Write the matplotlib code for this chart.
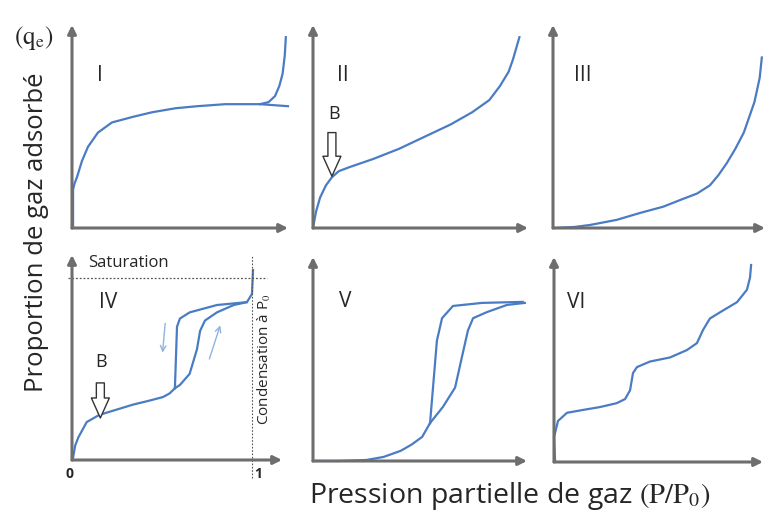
import matplotlib
matplotlib.use('Agg')
import matplotlib.pyplot as plt

plt.rcParams['font.family'] = ['Open Sans', 'DejaVu Sans']
plt.rcParams['mathtext.fontset'] = 'stix'

W, H = 778, 515

# --- isotherm curves (x = P/P0 along axis, y = fraction of axis height) ---
typeI_x = [0, 0.005, 0.005, 0.012, 0.023, 0.046, 0.074, 0.12, 0.185, 0.28, 0.37, 0.48, 0.58,
           0.71, 0.87, 1.0]
typeI_y = [0, 0.005, 0.19, 0.22, 0.25, 0.33, 0.40, 0.47, 0.52, 0.547, 0.57, 0.59, 0.60,
           0.61, 0.61, 0.60]
typeI_up_x = [0.87, 0.91, 0.94, 0.96, 0.975, 0.985, 0.99]
typeI_up_y = [0.61, 0.62, 0.65, 0.70, 0.76, 0.85, 0.94]

typeII_x = [0, 0.014, 0.033, 0.06, 0.088, 0.12, 0.17, 0.28, 0.40, 0.52, 0.64, 0.74, 0.82,
            0.87, 0.91, 0.93, 0.96]
typeII_y = [0, 0.08, 0.15, 0.21, 0.25, 0.28, 0.30, 0.34, 0.39, 0.45, 0.51, 0.57, 0.63,
            0.70, 0.77, 0.83, 0.94]

typeIII_x = [0.01, 0.10, 0.175, 0.30, 0.41, 0.52, 0.60, 0.68, 0.74, 0.78, 0.82, 0.86, 0.90,
             0.95, 0.975, 0.985]
typeIII_y = [0.0, 0.005, 0.015, 0.04, 0.074, 0.105, 0.138, 0.17, 0.21, 0.26, 0.32, 0.39,
             0.47, 0.62, 0.74, 0.84]

typeIV_x = [0, 0.005, 0.015, 0.03, 0.07, 0.13, 0.21, 0.29, 0.37, 0.433, 0.465, 0.49]
typeIV_y = [0, 0.01, 0.07, 0.11, 0.185, 0.22, 0.245, 0.27, 0.29, 0.307, 0.325, 0.35]
typeIV_ads_x = [0.49, 0.514, 0.56, 0.595, 0.61, 0.633, 0.69, 0.77, 0.833, 0.857, 0.862]
typeIV_ads_y = [0.35, 0.366, 0.42, 0.54, 0.63, 0.68, 0.72, 0.756, 0.77, 0.81, 0.927]
typeIV_des_x = [0.49, 0.50, 0.514, 0.56, 0.69, 0.833]
typeIV_des_y = [0.35, 0.65, 0.69, 0.72, 0.756, 0.77]

typeV_x = [0, 0.12, 0.25, 0.33, 0.41, 0.46, 0.51, 0.547]
typeV_y = [0, 0.0, 0.005, 0.02, 0.05, 0.08, 0.118, 0.186]
typeV_des_x = [0.547, 0.56, 0.579, 0.603, 0.654, 0.79, 0.98]
typeV_des_y = [0.186, 0.35, 0.59, 0.70, 0.76, 0.775, 0.78]
typeV_ads_x = [0.547, 0.607, 0.664, 0.696, 0.724, 0.748, 0.813, 0.906, 0.99]
typeV_ads_y = [0.186, 0.265, 0.36, 0.51, 0.64, 0.70, 0.73, 0.765, 0.775]

typeVI_x = [0.005, 0.0, 0.019, 0.062, 0.139, 0.22, 0.30, 0.34, 0.364, 0.378, 0.397, 0.459,
            0.555, 0.636, 0.684, 0.713, 0.746, 0.794, 0.876, 0.923, 0.938, 0.943]
typeVI_y = [0.01, 0.12, 0.20, 0.24, 0.254, 0.268, 0.287, 0.307, 0.35, 0.434, 0.463, 0.49,
            0.51, 0.546, 0.58, 0.644, 0.70, 0.73, 0.78, 0.84, 0.90, 0.961]

panel_names = ['I', 'II', 'III', 'IV', 'V', 'VI']
# pixel boxes: origin x, origin y, arrow tip x, arrow tip y
panel_boxes = [(72, 228, 288, 25), (313, 228, 528, 25), (553, 228, 765, 25),
               (72, 460, 282, 255), (313, 461, 527, 257), (554, 462, 763, 257)]
label_pos = [(0.13, 0.75), (0.14, 0.75), (0.14, 0.75), (0.17, 0.77), (0.15, 0.78), (0.105, 0.78)]

curve_color = '#4a7cc4'
axis_color = '#6e6e6e'
text_color = '#262626'

fig = plt.figure(figsize=(W / 100, H / 100), dpi=100)

axes = []
for name, (ox, oy, tx, ty), (lx, ly) in zip(panel_names, panel_boxes, label_pos):
    ax = fig.add_axes([ox / W, 1 - oy / H, (tx - ox) / W, (oy - ty) / H])
    ax.set_xlim(0, 1)
    ax.set_ylim(0, 1)
    ax.axis('off')
    for end in [(1, 0), (0, 1)]:
        ax.annotate('', xy=end, xytext=(0, 0), xycoords='data',
                    arrowprops=dict(arrowstyle='-|>,head_length=0.5,head_width=0.25',
                                    color=axis_color, lw=2.2, shrinkA=0, shrinkB=0),
                    annotation_clip=False)
    ax.text(lx, ly, name, fontsize=15, color=text_color, ha='center', va='center')
    axes.append(ax)

lw = 1.6
kw = dict(color=curve_color, lw=lw, clip_on=False, solid_joinstyle='round')
axes[0].plot(typeI_x, typeI_y, **kw)
axes[0].plot(typeI_up_x, typeI_up_y, **kw)
axes[1].plot(typeII_x, typeII_y, **kw)
axes[2].plot(typeIII_x, typeIII_y, **kw)
axes[3].plot(typeIV_x, typeIV_y, **kw)
axes[3].plot(typeIV_ads_x, typeIV_ads_y, **kw)
axes[3].plot(typeIV_des_x, typeIV_des_y, **kw)
axes[4].plot(typeV_x, typeV_y, **kw)
axes[4].plot(typeV_des_x, typeV_des_y, **kw)
axes[4].plot(typeV_ads_x, typeV_ads_y, **kw)
axes[5].plot(typeVI_x, typeVI_y, **kw)

# B point markers (hollow block arrows)
block = dict(arrowstyle='simple,head_length=0.8,head_width=0.72,tail_width=0.32',
             fc='white', ec='#333333', lw=1.0, shrinkA=0, shrinkB=0, mutation_scale=18)
axes[1].annotate('', xy=(0.088, 0.255), xytext=(0.088, 0.47), arrowprops=block, annotation_clip=False)
axes[1].text(0.10, 0.56, 'B', fontsize=13, color=text_color, ha='center', va='center')
axes[3].annotate('', xy=(0.135, 0.205), xytext=(0.135, 0.376), arrowprops=block, annotation_clip=False)
axes[3].text(0.14, 0.48, 'B', fontsize=13, color=text_color, ha='center', va='center')

# panel IV extras
ax4 = axes[3]
ax4.plot([-0.02, 0.93], [0.89, 0.89], ls=(0, (1.5, 1.5)), color='#555555', lw=0.9, clip_on=False)
ax4.plot([0.857, 0.857], [-0.09, 1.0], ls=(0, (1.5, 1.5)), color='#555555', lw=0.8, clip_on=False)
ax4.text(0.076, 0.96, 'Saturation', fontsize=12, color=text_color, ha='left', va='center')
ax4.text(0.915, 0.49, 'Condensation à P$_0$', fontsize=11, color=text_color, rotation=90,
         ha='center', va='center')
ax4.text(-0.01, -0.07, '0', fontsize=10, fontweight='bold', color=text_color, ha='center', va='center')
ax4.text(0.887, -0.07, '1', fontsize=10, fontweight='bold', color=text_color, ha='center', va='center')
thin = dict(arrowstyle='->,head_length=0.4,head_width=0.2', color='#8fb4e0', lw=1.0)
ax4.annotate('', xy=(0.43, 0.51), xytext=(0.445, 0.68), arrowprops=thin)
ax4.annotate('', xy=(0.71, 0.67), xytext=(0.65, 0.48), arrowprops=thin)

# global labels
fig.text(37 / W, 1 - 232 / H, 'Proportion de gaz adsorbé', rotation=90, fontsize=18.5,
         color=text_color, ha='center', va='center')
fig.text(34 / W, 1 - 38 / H, r'$(\mathrm{q}_\mathrm{e})$', fontsize=18, color=text_color,
         ha='center', va='center')
fig.text(510 / W, 1 - 496 / H, r'Pression partielle de gaz $\mathrm{(P/P_0)}$', fontsize=20.5,
         color=text_color, ha='center', va='center')

fig.savefig('out.png', dpi=100, facecolor='white')
